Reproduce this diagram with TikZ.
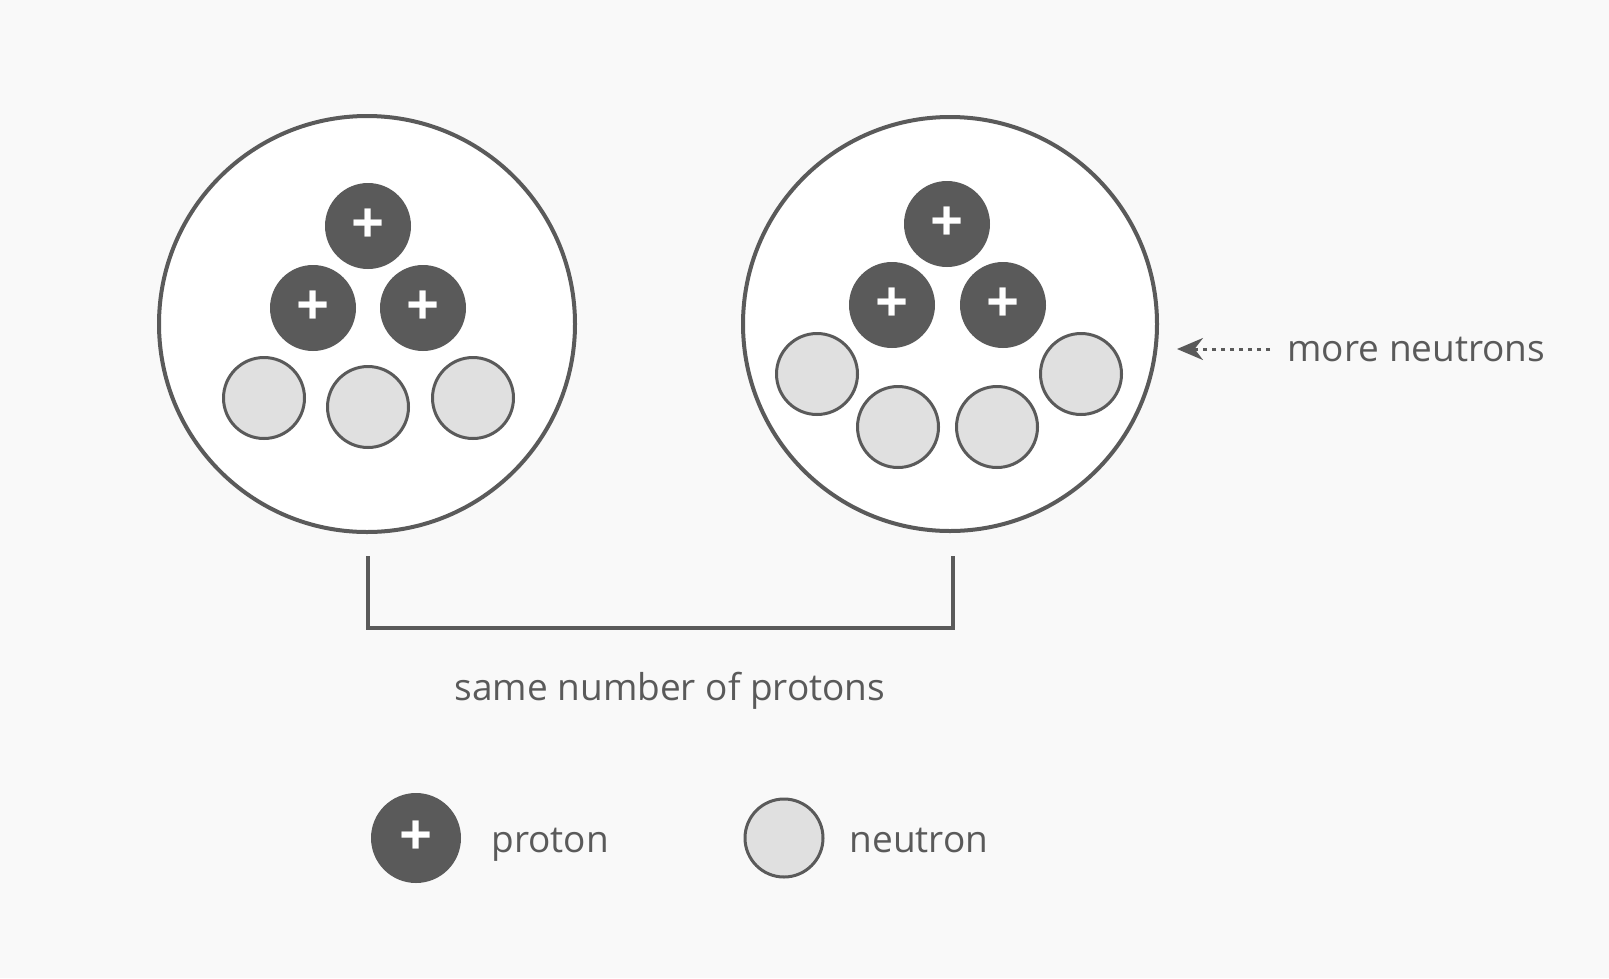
\documentclass[tikz,border=0pt]{standalone}
\usepackage{fontspec}
\setmainfont{Open Sans}
\usetikzlibrary{arrows.meta}
\definecolor{ink}{HTML}{5A5A5A}
\definecolor{neu}{HTML}{E0E0E0}
\definecolor{bg}{HTML}{F9F9F9}
\tikzset{
  nucleus/.style={circle, draw=ink, line width=4pt, fill=white, minimum size=#1, inner sep=0pt},
  proton/.style={circle, fill=ink, minimum size=86pt, inner sep=0pt, text=white, font=\fontsize{58}{58}\selectfont\bfseries},
  neutron/.style={circle, draw=ink, line width=3pt, fill=neu, minimum size=81pt, inner sep=0pt},
  lbl/.style={text=ink, font=\fontsize{37}{44}\selectfont}
}
\begin{document}
\begin{tikzpicture}[x=1pt,y=-1pt]
\fill[bg] (0,0) rectangle (1609,978);
\useasboundingbox (0,0) rectangle (1609,978);
% left nucleus
\node[nucleus=416pt] (nucA) at (367,324) {};
\node[proton] (pA1) at (368,226) {+};
\node[proton] (pA2) at (313,308) {+};
\node[proton] (pA3) at (423,308) {+};
\node[neutron] (nA1) at (264,398) {};
\node[neutron] (nA2) at (368,407) {};
\node[neutron] (nA3) at (473,398) {};
% right nucleus
\node[nucleus=414pt] (nucB) at (950,324) {};
\node[proton] (pB1) at (947,224) {+};
\node[proton] (pB2) at (892,305) {+};
\node[proton] (pB3) at (1003,305) {+};
\node[neutron] (nB1) at (817,374) {};
\node[neutron] (nB2) at (898,427) {};
\node[neutron] (nB3) at (997,427) {};
\node[neutron] (nB4) at (1081,374) {};
% bracket
\coordinate (brA) at (368,556);
\coordinate (brB) at (953,556);
\draw[ink, line width=3.5pt] (brA) -- ++(0,72) -| (brB);
\node[lbl, anchor=base] (same) at (670,700) {same number of protons};
% more neutrons
\node[lbl, anchor=base west] (more) at (1284,361) {more neutrons};
\coordinate (tip) at (1177,349);
\draw[ink, line width=3pt, dash pattern=on 4pt off 5pt, -{Stealth[length=26pt,width=22pt]}] (1270,349) -- (tip);
% legend
\node[proton, minimum size=90pt] (legP) at (416,838) {+};
\node[lbl, anchor=base west] (legPt) at (488,852) {proton};
\node[neutron, minimum size=78pt] (legN) at (784,838) {};
\node[lbl, anchor=base west] (legNt) at (846,852) {neutron};
\end{tikzpicture}
\end{document}
